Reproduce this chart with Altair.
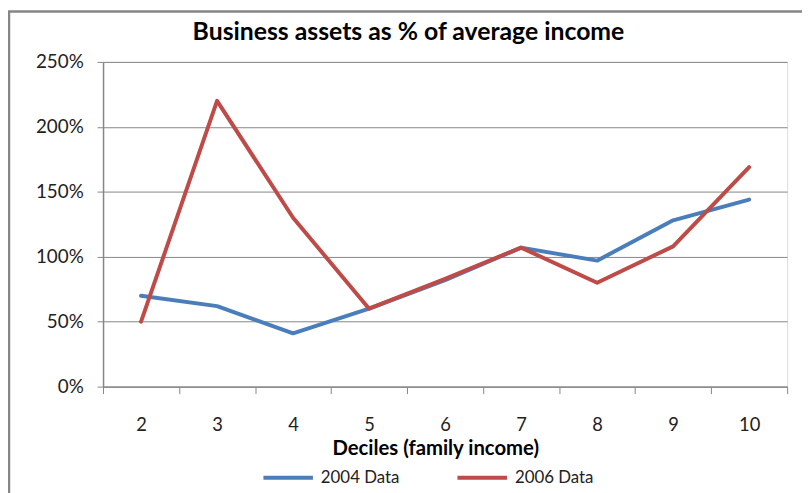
import altair as alt
import pandas as pd

deciles = [2, 3, 4, 5, 6, 7, 8, 9, 10]
data_2004 = [0.70, 0.62, 0.41, 0.60, 0.82, 1.07, 0.97, 1.28, 1.44]
data_2006 = [0.50, 2.20, 1.30, 0.60, 0.83, 1.07, 0.80, 1.08, 1.69]
series_names = ["2004 Data", "2006 Data"]
colors = ["#4A7EBB", "#BE4B48"]
y_ticks = [0, 0.5, 1.0, 1.5, 2.0, 2.5]
x_ticks = [1.5, 2.5, 3.5, 4.5, 5.5, 6.5, 7.5, 8.5, 9.5, 10.5]

rows = []
for name, vals in zip(series_names, [data_2004, data_2006]):
    for d, v in zip(deciles, vals):
        rows.append({"decile": d, "value": v, "series": name})
df = pd.DataFrame(rows)

FONT = "Lato"
GRAY = "#868686"
W, H = 691, 328

lines = alt.Chart(df).mark_line(strokeWidth=4, strokeCap="round", strokeJoin="round").encode(
    x=alt.X("decile:Q",
            scale=alt.Scale(domain=[1.5, 10.5], nice=False, zero=False),
            axis=alt.Axis(values=x_ticks, grid=False,
                          labelExpr="datum.value > 10 ? '' : format(datum.value + 0.5, 'd')",
                          labelOffset=W / 18, labelOverlap=False, labelBound=False, labelFlush=False,
                          tickSize=7, tickColor=GRAY, domainColor=GRAY, domainWidth=1.5,
                          labelPadding=22, labelFontSize=18.5, labelColor="#222", labelFont=FONT,
                          title="Deciles (family income)", titleFont=FONT, titleFontSize=20.5,
                          titleFontWeight="bold", titleColor="#000", titlePadding=5, titleX=W / 2 - 10)),
    y=alt.Y("value:Q",
            scale=alt.Scale(domain=[0, 2.5], nice=False),
            axis=alt.Axis(values=y_ticks, format="%", grid=True, gridColor=GRAY, gridWidth=1,
                          tickSize=6, tickColor=GRAY, domainColor=GRAY, domainWidth=1.5,
                          labelPadding=14, labelFontSize=19, labelColor="#222", labelFont=FONT,
                          title=None)),
    color=alt.Color("series:N",
                    scale=alt.Scale(domain=series_names, range=colors),
                    legend=alt.Legend(title=None, orient="none", legendX=160, legendY=393,
                                      direction="horizontal", symbolType="stroke",
                                      symbolSize=2500, symbolStrokeWidth=4,
                                      labelFont=FONT, labelFontSize=17, labelColor="#222",
                                      columnPadding=50, labelOffset=6)),
)

frame = alt.Chart(pd.DataFrame({"a": [0]})).mark_rect(
    fill=None, stroke=GRAY, strokeWidth=2.5, clip=False
).encode(x=alt.value(-95), x2=alt.value(W + 60), y=alt.value(-51), y2=alt.value(H + 200))

chart = alt.layer(frame, lines).properties(
    width=W, height=H,
    title=alt.TitleParams("Business assets as % of average income", font=FONT, fontSize=25,
                          fontWeight="bold", color="#000", anchor="middle", frame="group",
                          dx=-37, dy=49, offset=14),
    padding={"left": 96, "top": 52, "right": 15, "bottom": 105},
    autosize=alt.AutoSizeParams(type="none"),
).configure_view(stroke=None).configure(background="white")

chart.save("out.html", embed_options={"renderer": "svg", "actions": False})
